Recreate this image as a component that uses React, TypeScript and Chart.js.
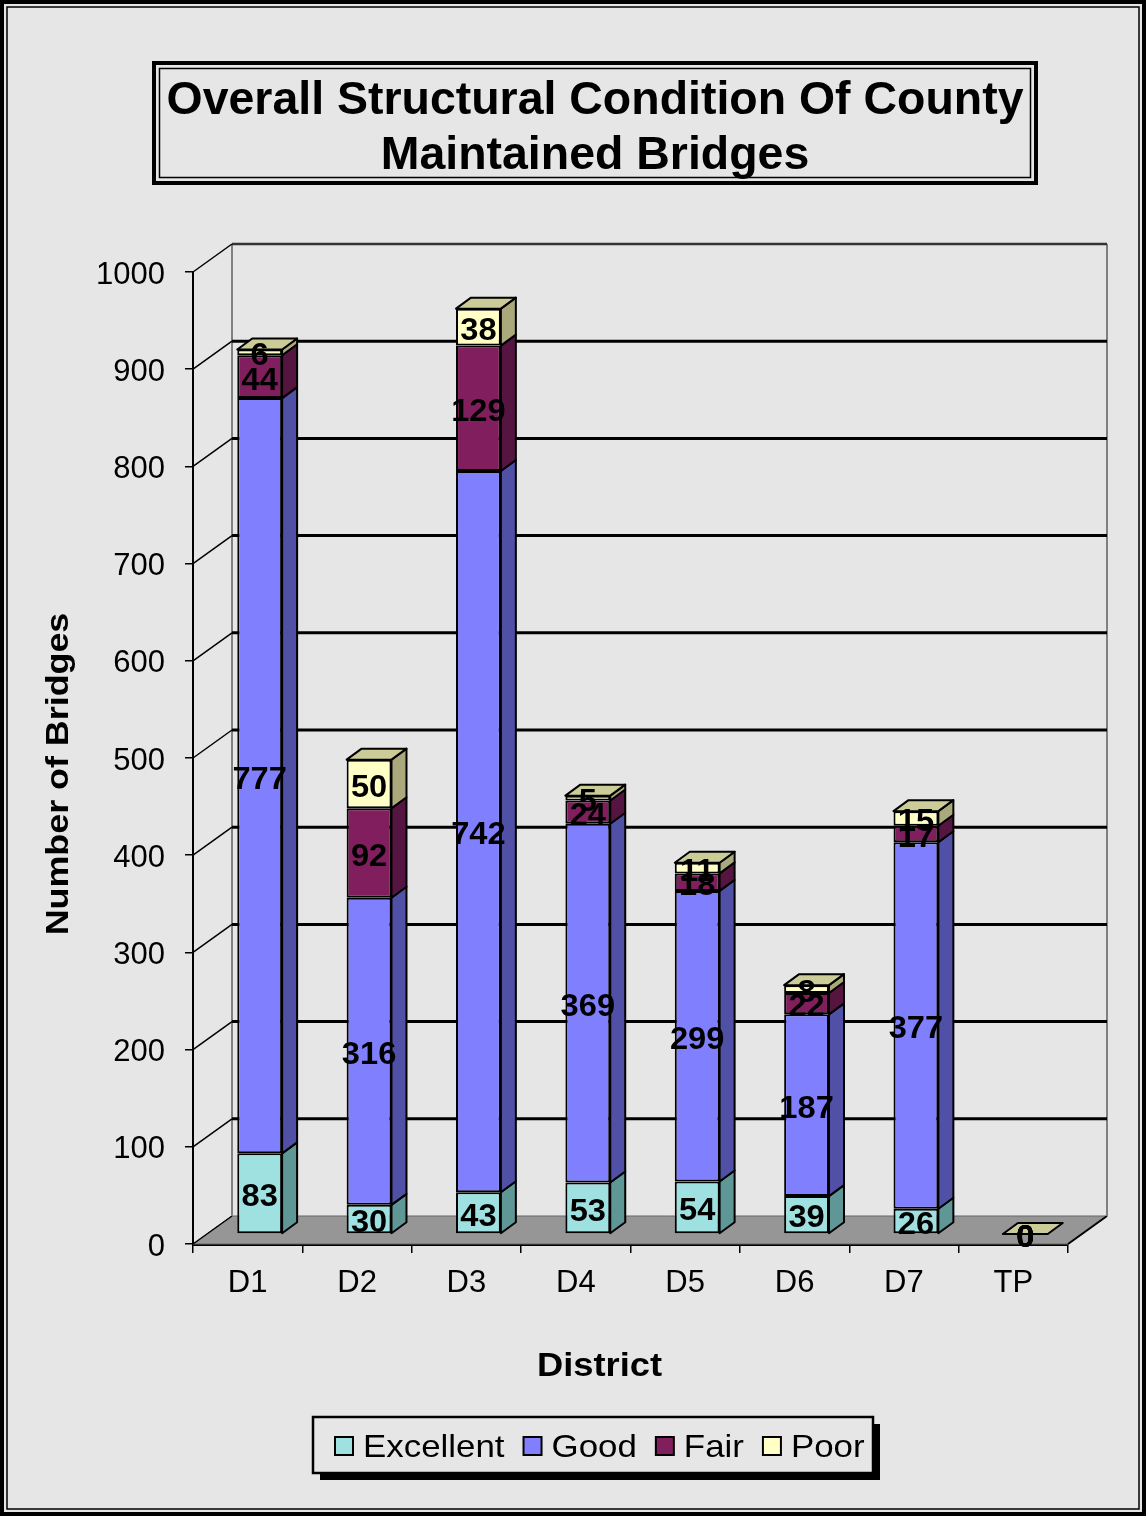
import React, { useEffect, useRef } from "react";
import { Chart, registerables } from "chart.js";

Chart.register(...registerables);

// Bridge counts per district, stacked by condition rating
const districts = ["D1", "D2", "D3", "D4", "D5", "D6", "D7", "TP"];
const excellent = [83, 30, 43, 53, 54, 39, 26, 0];
const good = [777, 316, 742, 369, 299, 187, 377, 0];
const fair = [44, 92, 129, 24, 18, 22, 17, 0];
const poor = [6, 50, 38, 5, 11, 8, 15, 0];

const seriesNames = ["Excellent", "Good", "Fair", "Poor"];
const seriesValues = [excellent, good, fair, poor];
const faceColors = ["#9FE0E0", "#8080FF", "#811F5E", "#FFFFC6"];
const sideColors = ["#5F9797", "#5050A6", "#561541", "#A9A97C"];
const topColors = ["#7FB3B3", "#6666CC", "#6B1A4E", "#CCCC99"];

const yMin = 0;
const yMax = 1000;
const yStep = 100;

const titleLines = ["Overall Structural Condition Of County", "Maintained Bridges"];
const yTitle = "Number of Bridges";
const xTitle = "District";

const W = 1146;
const H = 1516;
const FONT = '"Liberation Sans", Arial, Helvetica, sans-serif';
const BG = "#e6e6e6";

// 3D projection offsets (walls, bar placement in depth, bar thickness)
const WALL_DX = 39;
const WALL_DY = -28;
const BAR_DX = 12;
const BAR_DY = -10;
const SIDE_DX = 15;
const SIDE_DY = -11;

function drawText(
  ctx: CanvasRenderingContext2D,
  text: string,
  x: number,
  y: number,
  font: string,
  opts: { sx?: number; align?: CanvasTextAlign; baseline?: CanvasTextBaseline; rot?: number } = {}
) {
  ctx.save();
  ctx.translate(x, y);
  if (opts.rot) ctx.rotate(opts.rot);
  ctx.scale(opts.sx ?? 1, 1);
  ctx.font = font;
  ctx.fillStyle = "#000";
  ctx.textAlign = opts.align ?? "center";
  ctx.textBaseline = opts.baseline ?? "alphabetic";
  ctx.fillText(text, 0, 0);
  ctx.restore();
}

function quad(ctx: CanvasRenderingContext2D, pts: number[][], fill: string, stroke = "#000", lw = 2) {
  ctx.beginPath();
  ctx.moveTo(pts[0][0], pts[0][1]);
  for (let i = 1; i < pts.length; i++) ctx.lineTo(pts[i][0], pts[i][1]);
  ctx.closePath();
  ctx.fillStyle = fill;
  ctx.fill();
  ctx.lineWidth = lw;
  ctx.strokeStyle = stroke;
  ctx.lineJoin = "round";
  ctx.stroke();
}

function line(ctx: CanvasRenderingContext2D, x1: number, y1: number, x2: number, y2: number, color: string, lw: number) {
  ctx.beginPath();
  ctx.moveTo(x1, y1);
  ctx.lineTo(x2, y2);
  ctx.strokeStyle = color;
  ctx.lineWidth = lw;
  ctx.stroke();
}

const backgroundPlugin = {
  id: "pageBackground",
  beforeDraw(chart: any) {
    const ctx = chart.ctx as CanvasRenderingContext2D;
    ctx.save();
    ctx.fillStyle = BG;
    ctx.fillRect(0, 0, chart.width, chart.height);
    ctx.restore();
  },
};

const depthPlugin = {
  id: "depth3d",
  beforeDatasetsDraw(chart: any) {
    const ctx = chart.ctx as CanvasRenderingContext2D;
    const a = chart.chartArea;
    const ys = chart.scales.y;
    const y0 = ys.getPixelForValue(yMin);
    const yTop = ys.getPixelForValue(yMax);
    ctx.save();
    // floor
    quad(
      ctx,
      [
        [a.left, y0],
        [a.right, y0],
        [a.right + WALL_DX, y0 + WALL_DY],
        [a.left + WALL_DX, y0 + WALL_DY],
      ],
      "#969696",
      "#666",
      1
    );
    line(ctx, a.left, y0, a.left + WALL_DX, y0 + WALL_DY, "#000", 1.5);
    line(ctx, a.right, y0, a.right + WALL_DX, y0 + WALL_DY, "#000", 2);
    // side wall edge and back wall frame
    line(ctx, a.left + WALL_DX, yTop + WALL_DY, a.left + WALL_DX, y0 + WALL_DY, "#808080", 2);
    line(ctx, a.right + WALL_DX, yTop + WALL_DY, a.right + WALL_DX, y0 + WALL_DY, "#808080", 2);
    line(ctx, a.left + WALL_DX, yTop + WALL_DY, a.right + WALL_DX, yTop + WALL_DY, "#333", 2.5);
    // gridlines on the back wall and their diagonals on the side wall
    for (const t of ys.ticks) {
      const v = t.value;
      if (v <= yMin) continue;
      const py = ys.getPixelForValue(v);
      line(ctx, a.left, py, a.left + WALL_DX, py + WALL_DY, "#000", 1.5);
      if (v < yMax) line(ctx, a.left + WALL_DX, py + WALL_DY, a.right + WALL_DX, py + WALL_DY, "#000", 3);
    }
    ctx.restore();
    // bars sit halfway back on the floor
    ctx.save();
    ctx.translate(BAR_DX, BAR_DY);
  },
  afterDatasetsDraw(chart: any) {
    const ctx = chart.ctx as CanvasRenderingContext2D;
    const metas = chart.getSortedVisibleDatasetMetas();
    // right-hand side faces
    metas.forEach((meta: any) => {
      const di = meta.index;
      meta.data.forEach((el: any) => {
        const p = el.getProps(["x", "y", "base", "width"], true);
        const right = p.x + p.width / 2;
        const top = Math.min(p.y, p.base);
        const bottom = Math.max(p.y, p.base);
        if (bottom - top <= 0) return;
        quad(
          ctx,
          [
            [right, top],
            [right + SIDE_DX, top + SIDE_DY],
            [right + SIDE_DX, bottom + SIDE_DY],
            [right, bottom],
          ],
          sideColors[di]
        );
      });
    });
    // top face of each stack
    const last = metas[metas.length - 1];
    last.data.forEach((el: any) => {
      const p = el.getProps(["x", "y", "base", "width"], true);
      const left = p.x - p.width / 2;
      const right = p.x + p.width / 2;
      const top = Math.min(p.y, p.base);
      quad(
        ctx,
        [
          [left, top],
          [left + SIDE_DX, top + SIDE_DY],
          [right + SIDE_DX, top + SIDE_DY],
          [right, top],
        ],
        topColors[last.index]
      );
    });
    // value labels on the front faces
    metas.forEach((meta: any) => {
      const vals = chart.data.datasets[meta.index].data as number[];
      meta.data.forEach((el: any, i: number) => {
        const p = el.getProps(["x", "y", "base"], true);
        drawText(ctx, String(vals[i]), p.x, (p.y + p.base) / 2 + 4, `bold 32px ${FONT}`, {
          baseline: "middle",
          sx: 1.02,
        });
      });
    });
    ctx.restore();
  },
};

const decorPlugin = {
  id: "decor",
  afterDraw(chart: any) {
    const ctx = chart.ctx as CanvasRenderingContext2D;
    ctx.save();
    // page frame
    ctx.strokeStyle = "#000";
    ctx.lineWidth = 4;
    ctx.strokeRect(2, 2, W - 4, H - 4);
    ctx.lineWidth = 1.5;
    ctx.strokeRect(7, 7, W - 14, H - 14);

    // title box
    ctx.lineWidth = 4;
    ctx.strokeRect(154, 63, 882, 120);
    ctx.lineWidth = 1.5;
    ctx.strokeRect(159.5, 68.5, 871, 109);
    drawText(ctx, titleLines[0], 595, 114, `bold 46px ${FONT}`, { sx: 1.01 });
    drawText(ctx, titleLines[1], 595, 169, `bold 46px ${FONT}`, { sx: 1.01 });

    // axis titles
    drawText(ctx, yTitle, 68, 774, `bold 32px ${FONT}`, { rot: -Math.PI / 2, sx: 1.12 });
    drawText(ctx, xTitle, 599.5, 1376, `bold 33px ${FONT}`, { sx: 1.1 });

    // legend
    const lx = 313, ly = 1417, lw = 560, lh = 56;
    ctx.fillStyle = "#000";
    ctx.fillRect(lx + 7, ly + 7, lw, lh);
    ctx.fillStyle = BG;
    ctx.fillRect(lx, ly, lw, lh);
    ctx.lineWidth = 2.5;
    ctx.strokeStyle = "#000";
    ctx.strokeRect(lx, ly, lw, lh);
    const sx = 1.09;
    const legendFont = `32px ${FONT}`;
    let x = 335;
    chart.data.datasets.forEach((ds: any) => {
      ctx.fillStyle = ds.backgroundColor;
      ctx.fillRect(x, 1437, 18, 18);
      ctx.lineWidth = 2;
      ctx.strokeStyle = "#000";
      ctx.strokeRect(x, 1437, 18, 18);
      x += 28;
      drawText(ctx, ds.label, x, 1457, legendFont, { sx, align: "left" });
      ctx.font = legendFont;
      x += ctx.measureText(ds.label).width * sx + 19;
    });
    ctx.restore();
  },
};

export default function App() {
  const canvasRef = useRef<HTMLCanvasElement | null>(null);

  useEffect(() => {
    const canvas = canvasRef.current;
    if (!canvas) return;
    const chart = new Chart(canvas, {
      type: "bar",
      data: {
        labels: districts,
        datasets: seriesNames.map((name, i) => ({
          label: name,
          data: seriesValues[i],
          backgroundColor: faceColors[i],
          borderColor: "#000",
          borderWidth: 2,
          borderSkipped: false,
          barPercentage: 0.41,
          categoryPercentage: 1,
        })),
      },
      options: {
        responsive: false,
        animation: false,
        devicePixelRatio: 1,
        events: [],
        layout: { padding: { left: 40, right: 78, top: 272, bottom: H - 1244 - 80 } },
        plugins: {
          legend: { display: false },
          title: { display: false },
          tooltip: { enabled: false },
        },
        scales: {
          x: {
            stacked: true,
            offset: true,
            grid: { drawOnChartArea: false, tickLength: 9, color: "#000", lineWidth: 1.5, offset: true },
            border: { color: "#000", width: 3 },
            ticks: { font: { family: FONT, size: 31 }, color: "#000", padding: 12 },
            afterFit: (s: any) => {
              s.height = 80;
            },
          },
          y: {
            stacked: true,
            min: yMin,
            max: yMax,
            grid: { drawOnChartArea: false, tickLength: 8, color: "#000", lineWidth: 1.5 },
            border: { color: "#000", width: 2 },
            ticks: {
              stepSize: yStep,
              font: { family: FONT, size: 31 },
              color: "#000",
              padding: 20,
              labelOffset: 3,
              callback: (v: any) => String(v),
            },
            afterFit: (s: any) => {
              s.width = 153;
            },
          },
        },
      },
      plugins: [backgroundPlugin, depthPlugin, decorPlugin],
    } as any);
    return () => chart.destroy();
  }, []);

  return (
    <div style={{ position: "absolute", left: 0, top: 0, width: W, height: H, overflow: "hidden" }}>
      <canvas ref={canvasRef} width={W} height={H} style={{ display: "block", width: W, height: H }} />
    </div>
  );
}
